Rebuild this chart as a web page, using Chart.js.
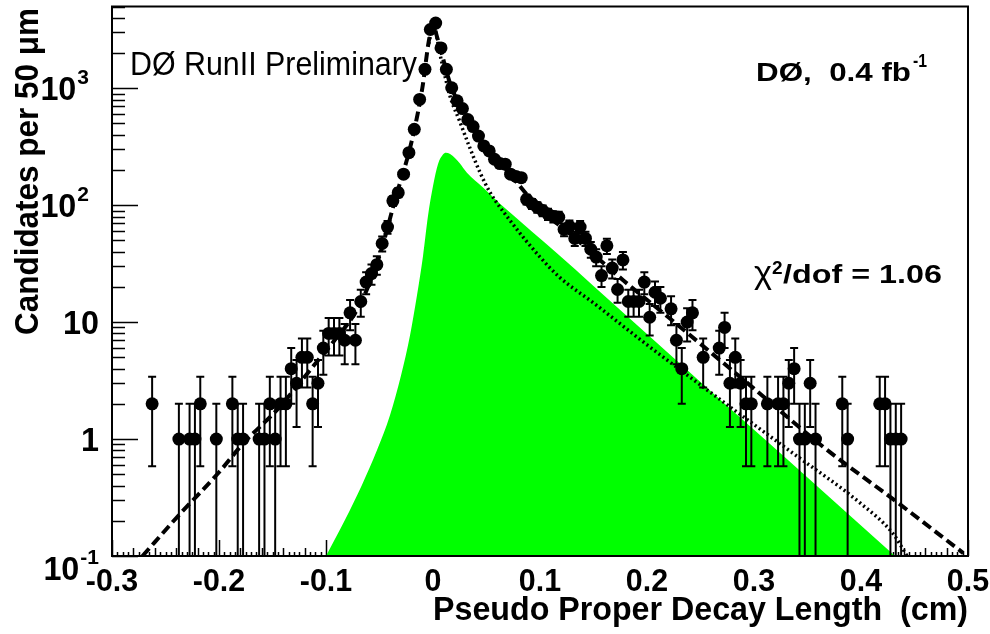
<!DOCTYPE html>
<html>
<head>
<meta charset="utf-8">
<script src="https://cdn.jsdelivr.net/npm/chart.js@4.4.0/dist/chart.umd.min.js"></script>
<style>
  html, body { margin: 0; padding: 0; background: #fff; }
</style>
</head>
<body>
<canvas id="myChart" width="990" height="634"></canvas>
<script>
// histogram: bin centre (cm) and candidates per 50 um bin
const binX = [-0.2625, -0.2375, -0.2275, -0.2225, -0.2175, -0.2025, -0.1875, -0.1825, -0.1775, -0.1625,
    -0.1575, -0.1525, -0.1475, -0.1425, -0.1375, -0.1325, -0.1275, -0.1225, -0.1175, -0.1125,
    -0.1075, -0.1025, -0.0975, -0.0925, -0.0875, -0.0825, -0.0775, -0.0725, -0.0675, -0.0625,
    -0.0575, -0.0525, -0.0475, -0.0425, -0.0375, -0.0325, -0.0275, -0.0225, -0.0175, -0.0125,
    -0.0075, -0.0025, 0.0025, 0.0075, 0.0125, 0.0175, 0.0225, 0.0275, 0.0325, 0.0375,
    0.0425, 0.0475, 0.0525, 0.0575, 0.0625, 0.0675, 0.0725, 0.0775, 0.0825, 0.0875,
    0.0925, 0.0975, 0.1025, 0.1075, 0.1125, 0.1175, 0.1225, 0.1275, 0.1325, 0.1375,
    0.1425, 0.1475, 0.1525, 0.1575, 0.1625, 0.1675, 0.1725, 0.1775, 0.1825, 0.1875,
    0.1925, 0.1975, 0.2025, 0.2075, 0.2125, 0.2225, 0.2275, 0.2325, 0.2375, 0.2425,
    0.2525, 0.2675, 0.2725, 0.2775, 0.2825, 0.2875, 0.2925, 0.2975, 0.3125, 0.3225,
    0.3275, 0.3325, 0.3375, 0.3425, 0.3475, 0.3525, 0.3575, 0.3825, 0.3875, 0.4175,
    0.4225, 0.4275, 0.4325, 0.4375];
const binN = [2, 1, 1, 1, 2, 1, 2, 1, 1, 1,
    1, 2, 1, 2, 2, 4, 3, 5, 5, 2,
    3, 6, 8, 8, 8, 7, 12, 7, 15, 22,
    26, 31, 47, 65, 109, 128, 184, 281, 445, 803,
    1450, 3180, 3610, 2210, 1450, 1010, 780, 670, 540, 470,
    390, 321, 291, 247, 227, 224, 184, 176, 172, 112,
    103, 96, 90, 84, 80, 79, 62, 66, 52, 65,
    52, 42, 36, 25, 45, 29, 19, 34, 15, 15,
    15, 22, 11, 18, 16, 13, 7, 4, 10, 12,
    5, 6, 9, 3, 5, 3, 2, 2, 2, 2,
    2, 3, 4, 1, 1, 3, 1, 2, 1, 2,
    2, 1, 1, 1];

// total fit (dashed)
const totalX = [-0.2715, -0.2374, -0.2, -0.1773, -0.146, -0.1087, -0.093, -0.068, -0.05, -0.035,
    -0.02, -0.01, -0.004, 0, 0.004, 0.0075, 0.0125, 0.0175, 0.025, 0.035,
    0.05, 0.065, 0.08, 0.1, 0.125, 0.15, 0.178, 0.22, 0.3, 0.3645, 0.4334, 0.4956];
const totalY = [0.1, 0.224, 0.52, 0.92, 1.77, 4.56, 6.8, 14.3, 37, 115,
    350, 1000, 2500, 3500, 2700, 2100, 1400, 1000, 720, 500,
    310, 220, 150, 92, 60, 38, 22.7, 11, 2.7, 0.86, 0.29, 0.106];

// background component (dotted)
const bkgX = [-0.004, 0, 0.008, 0.016, 0.025, 0.035, 0.044, 0.053, 0.072, 0.1,
    0.1187, 0.15, 0.2, 0.25, 0.3, 0.337, 0.4, 0.43, 0.443];
const bkgY = [2400, 3400, 1700, 850, 520, 300, 190, 130, 74, 36,
    24, 14.6, 6.4, 2.9, 1.33, 0.75, 0.28, 0.155, 0.1];

// B -> J/psi signal component (green)
const sigX = [-0.1, -0.0822, -0.0664, -0.0523, -0.0402, -0.0299, -0.0215, -0.015, -0.0093, -0.0047,
    0, 0.0047, 0.0093, 0.012, 0.016, 0.025, 0.0315, 0.047, 0.0626, 0.075,
    0.0937, 0.1156, 0.15, 0.2, 0.25, 0.3, 0.35, 0.4318];
const sigY = [0.1, 0.204, 0.405, 0.805, 1.6, 3.5, 7.7, 16.9, 37, 81,
    146, 225, 271, 281, 274, 228, 190, 141, 103, 82,
    58, 39, 20.4, 7.9, 3.08, 1.2, 0.47, 0.1];

const xTickValues = [-0.3, -0.2, -0.1, 0, 0.1, 0.2, 0.3, 0.4, 0.5];
const xTickLabels = ['-0.3', '-0.2', '-0.1', '0', '0.1', '0.2', '0.3', '0.4', '0.5'];
const yTickValues = [0.1, 1, 10, 100, 1000];
const yTickBase = ['10', '1', '10', '10', '10'];
const yTickExp = ['-1', '', '', '2', '3'];

const toPoints = (xs, ys) => xs.map((x, i) => ({ x: x, y: ys[i] }));

function fontOf(size, bold) {
    return (bold ? 'bold ' : '') + size + 'px "Liberation Sans", Arial, sans-serif';
}

// draw text, optionally squeezed/stretched to a given width
function putText(ctx, txt, x, y, size, bold, width) {
    ctx.font = fontOf(size, bold);
    const w = ctx.measureText(txt).width;
    ctx.save();
    ctx.translate(x, y);
    if (width) ctx.scale(width / w, 1);
    ctx.fillText(txt, 0, 0);
    ctx.restore();
    return width || w;
}

const rootStyle = {
    id: 'rootStyle',
    beforeDatasetsDraw(chart) {
        const { ctx, chartArea: a, scales: { x, y } } = chart;
        ctx.save();
        ctx.strokeStyle = '#000';
        ctx.lineWidth = 1.5;
        ctx.beginPath();
        for (let d = -1; d <= 3; d++) {
            for (let m = 1; m <= 9; m++) {
                const v = m * Math.pow(10, d);
                if (v > y.max) continue;
                const py = Math.round(y.getPixelForValue(v)) + 0.5;
                ctx.moveTo(a.left, py);
                ctx.lineTo(a.left + (m === 1 ? 26 : 13), py);
            }
        }
        for (let i = 0; i <= 160; i++) {
            const px = Math.round(x.getPixelForValue(-0.3 + i * 0.005)) + 0.5;
            const len = i % 20 === 0 ? 16 : (i % 4 === 0 ? 8 : 4);
            ctx.moveTo(px, a.bottom);
            ctx.lineTo(px, a.bottom - len);
        }
        ctx.stroke();
        ctx.restore();
    },
    afterDatasetsDraw(chart) {
        const { ctx, chartArea: a, scales: { x, y } } = chart;
        ctx.save();
        ctx.beginPath();
        ctx.rect(a.left, a.top, a.right - a.left, a.bottom - a.top);
        ctx.clip();
        ctx.strokeStyle = '#000';
        ctx.lineWidth = 2;
        ctx.beginPath();
        binX.forEach((bx, i) => {
            const n = binN[i];
            const err = Math.sqrt(n);
            const px = x.getPixelForValue(bx);
            const hi = y.getPixelForValue(n + err);
            const lo = n - err > y.min ? y.getPixelForValue(n - err) : a.bottom + 2;
            ctx.moveTo(px, hi);
            ctx.lineTo(px, lo);
            ctx.moveTo(px - 4, hi);
            ctx.lineTo(px + 4, hi);
            if (n - err > y.min) {
                ctx.moveTo(px - 4, lo);
                ctx.lineTo(px + 4, lo);
            }
        });
        ctx.stroke();
        ctx.restore();
    },
    afterDraw(chart) {
        const { ctx, chartArea: a, scales: { x, y } } = chart;
        ctx.save();
        ctx.strokeStyle = '#000';
        ctx.lineWidth = 2;
        ctx.strokeRect(a.left, a.top, a.right - a.left, a.bottom - a.top);

        ctx.fillStyle = '#000';
        ctx.textAlign = 'left';
        ctx.textBaseline = 'alphabetic';

        // x tick labels
        xTickValues.forEach((v, i) => {
            ctx.font = fontOf(32, true);
            const w = ctx.measureText(xTickLabels[i]).width * 0.95;
            putText(ctx, xTickLabels[i], x.getPixelForValue(v) - w / 2, a.bottom + 35, 32, true, w);
        });

        // y tick labels (10 with superscript exponent)
        yTickValues.forEach((v, i) => {
            let py = y.getPixelForValue(v);
            if (i === 0) py += 12;
            ctx.font = fontOf(34, true);
            const wb = ctx.measureText(yTickBase[i]).width * 0.95;
            ctx.font = fontOf(21, true);
            const we = yTickExp[i] ? ctx.measureText(yTickExp[i]).width + 1 : 0;
            const right = yTickExp[i] && i > 0 ? 89 : 99;
            const left = right - wb - we;
            putText(ctx, yTickBase[i], left, py + 12, 34, true, wb);
            if (yTickExp[i]) putText(ctx, yTickExp[i], left + wb + 1, py - 4, 21, true);
        });

        // axis titles
        putText(ctx, 'Pseudo Proper Decay Length  (cm)', 433, 620, 33, true, 535);
        ctx.save();
        ctx.translate(38, 335);
        ctx.rotate(-Math.PI / 2);
        putText(ctx, 'Candidates per 50 \u03bcm', 0, 0, 33, true, 327);
        ctx.restore();

        // annotations
        putText(ctx, 'D\u00d8 RunII Preliminary', 130, 75, 34, false, 287);
        putText(ctx, 'D\u00d8,  0.4 fb', 756, 81, 26, true, 155);
        putText(ctx, '-1', 913, 67, 18, true, 14);
        putText(ctx, '\u03c7', 754, 283, 32, false, 18);
        putText(ctx, '2', 772, 274, 19, true);
        putText(ctx, '/dof = 1.06', 783, 283, 26, true, 159);
        ctx.restore();
    }
};

const ctx = document.getElementById('myChart').getContext('2d');

new Chart(ctx, {
    type: 'scatter',
    data: {
        datasets: [{
                label: 'data',
                data: toPoints(binX, binN),
                pointRadius: 6.5,
                pointHoverRadius: 6.5,
                pointBackgroundColor: '#000',
                pointBorderColor: '#000',
                pointBorderWidth: 0,
                showLine: false,
                order: 1
            },
            {
                label: 'total',
                data: toPoints(totalX, totalY),
                showLine: true,
                pointRadius: 0,
                borderColor: '#000',
                borderWidth: 4,
                borderDash: [10, 5],
                cubicInterpolationMode: 'monotone',
                fill: false,
                order: 2
            },
            {
                label: 'background',
                data: toPoints(bkgX, bkgY),
                showLine: true,
                pointRadius: 0,
                borderColor: '#000',
                borderWidth: 3.5,
                borderDash: [2, 3],
                cubicInterpolationMode: 'monotone',
                fill: false,
                order: 3
            },
            {
                label: 'signal',
                data: toPoints(sigX, sigY),
                showLine: true,
                pointRadius: 0,
                borderWidth: 0,
                borderColor: '#00ff00',
                backgroundColor: '#00ff00',
                cubicInterpolationMode: 'monotone',
                fill: 'start',
                order: 4
            }
        ]
    },
    options: {
        responsive: false,
        animation: false,
        events: [],
        layout: {
            padding: { top: 4, right: 22, left: 0, bottom: 0 }
        },
        scales: {
            x: {
                type: 'linear',
                min: -0.3,
                max: 0.5,
                grid: { display: false, drawTicks: false },
                border: { display: false },
                ticks: { display: false },
                afterFit: function (scale) { scale.height = 78; }
            },
            y: {
                type: 'logarithmic',
                min: 0.1,
                max: 5000,
                grid: { display: false, drawTicks: false },
                border: { display: false },
                ticks: { display: false },
                afterFit: function (scale) { scale.width = 112; }
            }
        },
        plugins: {
            legend: { display: false },
            tooltip: { enabled: false }
        }
    },
    plugins: [rootStyle]
});
</script>
</body>
</html>
